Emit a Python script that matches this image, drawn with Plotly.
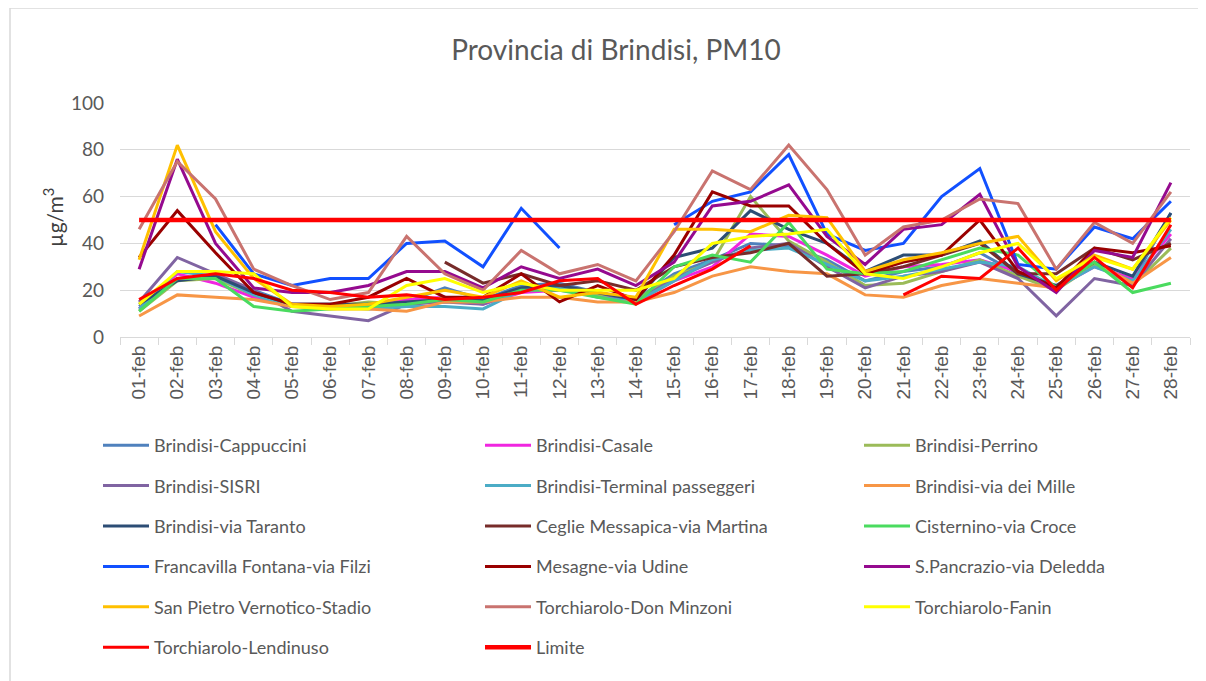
import plotly.graph_objects as go

dates = [f"{d:02d}-feb" for d in range(1, 29)]
N = None

cappuccini = [13, 25, 26, 20, 14, 14, 13, 15, 21, 16, 22, 23, 19, 16, 27, 33, 40, 39, 33, 24, 28, 30, 36, 27, 21, 31, 24, 53]
casale = [12, 27, 23, 17, 14, 13, 13, 16, 17, 14, 19, 20, 18, 15, 24, 30, 44, 43, 35, 26, 30, 31, 33, 28, 21, 30, 25, 44]
perrino = [11, 24, 25, 18, 13, 13, 15, 14, 17, 15, 21, 21, 18, 16, 26, 32, 60, 41, 32, 22, 23, 28, 33, 26, 20, 31, 22, 38]
sisri = [15, 34, 27, 20, 11, 9, 7, 14, 15, 14, 20, 22, 19, 15, 25, 32, 38, 40, 30, 21, 26, 28, 32, 25, 9, 25, 22, 42]
terminal = [12, 28, 26, 18, 13, 13, 12, 13, 13, 12, 20, 21, 17, 15, 24, 33, 37, 38, 31, 24, 26, 29, 32, 30, 21, 30, 24, 46]
via_mille = [9, 18, 17, 16, 13, 12, 12, 11, 15, 15, 17, 17, 15, 15, 19, 26, 30, 28, 27, 18, 17, 22, 25, 23, 21, 32, 23, 34]
via_taranto = [14, 24, 26, 19, 14, 14, 14, 15, 16, 16, 21, 22, 19, 16, 34, 38, 54, 46, 40, 28, 35, 35, 41, 27, 22, 32, 26, 53]
ceglie = [N, N, N, N, N, N, N, N, 32, 23, 27, 22, 24, 20, 30, 34, 36, 40, 26, 27, 30, 35, 40, 27, 27, 38, 33, 40]
cisternino = [11, 25, 25, 13, 11, 12, 13, 14, 16, 15, 20, 20, 17, 14, 30, 35, 32, 49, 29, 27, 28, 33, 38, 35, 21, 32, 19, 23]
francavilla = [N, N, 48, 27, 22, 25, 25, 40, 41, 30, 55, 38, N, N, 48, 58, 62, 78, 44, 37, 40, 60, 72, 31, 29, 47, 42, 58]
mesagne = [34, 54, 36, 19, 14, 14, 17, 25, 17, 17, 27, 15, 22, 16, 35, 62, 56, 56, 40, 27, 32, 35, 50, 28, 21, 38, 36, 39]
pancrazio = [29, 76, 40, 21, 19, 19, 22, 28, 28, 21, 30, 25, 29, 22, 32, 56, 58, 65, 43, 31, 46, 48, 61, 30, 19, 37, 34, 66]
san_pietro = [33, 82, 45, 25, 14, 13, 14, 17, 20, 17, 24, 17, 19, 17, 46, 46, 45, 52, 51, 28, 33, 36, 40, 43, 24, 35, 29, 50]
don_minzoni = [46, 75, 59, 29, 22, 16, 19, 43, 27, 20, 37, 27, 31, 24, 45, 71, 63, 82, 63, 35, 47, 50, 59, 57, 29, 49, 40, 62]
fanin = [14, 28, 28, 27, 13, 12, 12, 22, 25, 19, 23, 20, 20, 20, 25, 40, 43, 44, 46, 27, 25, 30, 36, 40, 25, 34, 29, 51]
lendinuso = [16, 25, 27, 25, 20, 19, 17, 18, 16, 17, 19, 24, 25, 14, 22, 29, 39, N, N, N, 18, 26, 25, 38, 20, 34, 21, 48]
limite = [50] * 28

series = [
    ("Brindisi-Cappuccini", cappuccini, "#4F81BD"),
    ("Brindisi-Casale", casale, "#F026E0"),
    ("Brindisi-Perrino", perrino, "#9BBB59"),
    ("Brindisi-SISRI", sisri, "#8064A2"),
    ("Brindisi-Terminal passeggeri", terminal, "#4BACC6"),
    ("Brindisi-via dei Mille", via_mille, "#F79646"),
    ("Brindisi-via Taranto", via_taranto, "#2C4D75"),
    ("Ceglie Messapica-via Martina", ceglie, "#772C2A"),
    ("Cisternino-via Croce", cisternino, "#4ADB5F"),
    ("Francavilla Fontana-via Filzi", francavilla, "#1150FF"),
    ("Mesagne-via Udine", mesagne, "#990000"),
    ("S.Pancrazio-via Deledda", pancrazio, "#950A8F"),
    ("San Pietro Vernotico-Stadio", san_pietro, "#FFC000"),
    ("Torchiarolo-Don Minzoni", don_minzoni, "#C9736F"),
    ("Torchiarolo-Fanin", fanin, "#FFFF00"),
    ("Torchiarolo-Lendinuso", lendinuso, "#FF0000"),
    ("Limite", limite, "#FF0000"),
]

legend_ids = ["legend", "legend2", "legend3"]

fig = go.Figure()
for i, (name, vals, col) in enumerate(series):
    fig.add_trace(go.Scatter(
        x=dates, y=vals, name=name, mode="lines",
        line=dict(color=col, width=4.5 if name == "Limite" else 3),
        legend=legend_ids[i % 3], legendgroup=f"g{i}",
    ))

# page body has an 8px margin; figure is drawn from (8, 8)
OFF = 8
W, H = 1206 - OFF, 681 - OFF
PL, PR, PT, PB = 120, 1190, 103, 337  # plot area in page coordinates
L, R, T = PL - OFF, W - (PR - OFF), PT - OFF
B = H - (PB - OFF)
pw, ph = PR - PL, PB - PT

def py(ypage):
    return (PB - ypage) / ph

def px(xpage):
    return (xpage - PL) / pw

col_x = [98, 480, 859]
legend_font = dict(family="Lato", size=18, color="#595959")
layout_legends = {}
for k, lid in enumerate(legend_ids):
    layout_legends[lid] = dict(
        orientation="v", x=px(col_x[k]), xanchor="left", y=py(427), yanchor="top",
        font=legend_font, bgcolor="rgba(0,0,0,0)", traceorder="grouped",
        tracegroupgap=14, itemwidth=46,
    )

fig.update_layout(
    width=W, height=H,
    margin=dict(l=L, r=R, t=T, b=B),
    paper_bgcolor="white", plot_bgcolor="white",
    title=dict(text="Provincia di Brindisi, PM10", x=px(616), xanchor="center",
               xref="paper", y=1 - (50 - OFF) / H, yanchor="middle",
               font=dict(family="Lato", size=28, color="#595959")),
    showlegend=True,
    **layout_legends,
)

fig.update_xaxes(
    type="category", range=[-0.5, 27.5], tickangle=-90,
    tickfont=dict(family="Liberation Sans", size=19, color="#595959"),
    showgrid=False, showline=True, linecolor="#D9D9D9", linewidth=1,
    ticks="outside", tickson="boundaries", ticklen=7, tickcolor="#D9D9D9",
)
fig.update_yaxes(
    range=[0, 100], dtick=20, showgrid=True, gridcolor="#D9D9D9", gridwidth=1,
    zeroline=False, showline=False,
    tickfont=dict(family="Lato", size=19, color="#595959"),
    ticklabelstandoff=15,
)

fig.add_annotation(text="µg/m<sup>3</sup>", xref="paper", yref="paper",
                   x=px(53), y=py(218), xanchor="center", yanchor="middle",
                   textangle=-90, showarrow=False,
                   font=dict(family="Lato", size=21, color="#404040"))

fig.add_shape(type="rect", xref="paper", yref="paper",
              x0=px(10), x1=px(1230), y0=py(700), y1=py(8),
              line=dict(color="#D9D9D9", width=1.5), fillcolor="rgba(0,0,0,0)", layer="below")

fig.write_html("out.html", config={"displayModeBar": False})
